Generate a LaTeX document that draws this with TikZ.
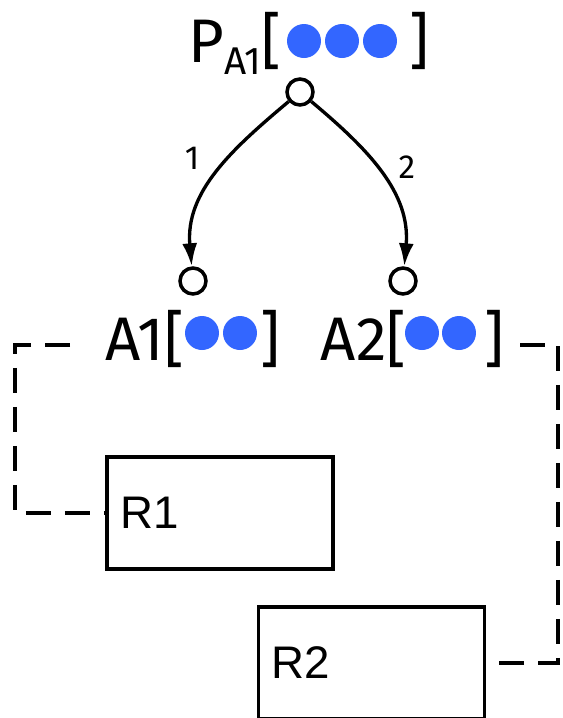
\documentclass[tikz,border=0pt]{standalone}
\usepackage{fontspec}
\setmainfont{Fira Sans}
\setsansfont{Liberation Sans}
\usetikzlibrary{arrows.meta, positioning}
\definecolor{dotblue}{RGB}{51,102,255}

\begin{document}
\begin{tikzpicture}[x=0.02cm, y=0.02cm,
  port/.style={circle, draw, line width=2pt, minimum size=0.52cm, inner sep=0pt},
  placename/.style={inner sep=0pt, anchor=base west, font=\fontsize{35}{35}\selectfont},
  num/.style={inner sep=0pt, font=\fontsize{19}{19}\selectfont},
  flow/.style={line width=1.9pt, -{Latex[length=0.46cm, width=0.3cm]}},
  link/.style={line width=2pt, dash pattern=on 0.5cm off 0.28cm},
  res/.style={draw, line width=2pt, minimum width=4.52cm, minimum height=2.24cm,
    text width=4.0cm, align=left, inner xsep=0.22cm, font=\sffamily\fontsize{26}{26}\selectfont}]
  \useasboundingbox (0,0) rectangle (563,-718);

  % places
  \node[port] (top) at (300,-92) {};
  \node[port] (a1) at (193,-281) {};
  \node[port] (a2) at (403,-281) {};

  % labels
  \node[placename] (pname) at (188,-62) {P\raisebox{-0.2em}{\fontsize{22}{22}\selectfont A1}[};
  \node[placename] (pclose) at (409,-62) {]};
  \node[placename] (a1name) at (105,-360) {A1[};
  \node[placename] (a1close) at (260,-360) {]};
  \node[placename] (a2name) at (320,-360) {A2[};
  \node[placename] (a2close) at (484,-360) {]};

  % tokens
  \foreach \x in {304,342,380} \fill[dotblue] (\x,-41) circle (0.34cm);
  \foreach \x in {202,240,422,459} \fill[dotblue] (\x,-333) circle (0.34cm);

  % arcs
  \draw[flow] (top) to[out=220, in=95] (a1);
  \draw[flow] (top) to[out=-40, in=85] (a2);
  \node[num] (n1) at (192,-158) {1};
  \node[num] (n2) at (407,-167) {2};

  % resources
  \node[res] (r1) at (220,-513) {R1};
  \node[res] (r2) at (371.5,-663) {R2};
  \coordinate (a1out) at (70,-345);
  \coordinate (a2out) at (520,-345);
  \draw[link] (a1out) -- ++(-55,0) |- (r1.west);
  \draw[link] (a2out) -- ++(38,0) |- (r2.east);
\end{tikzpicture}
\end{document}
